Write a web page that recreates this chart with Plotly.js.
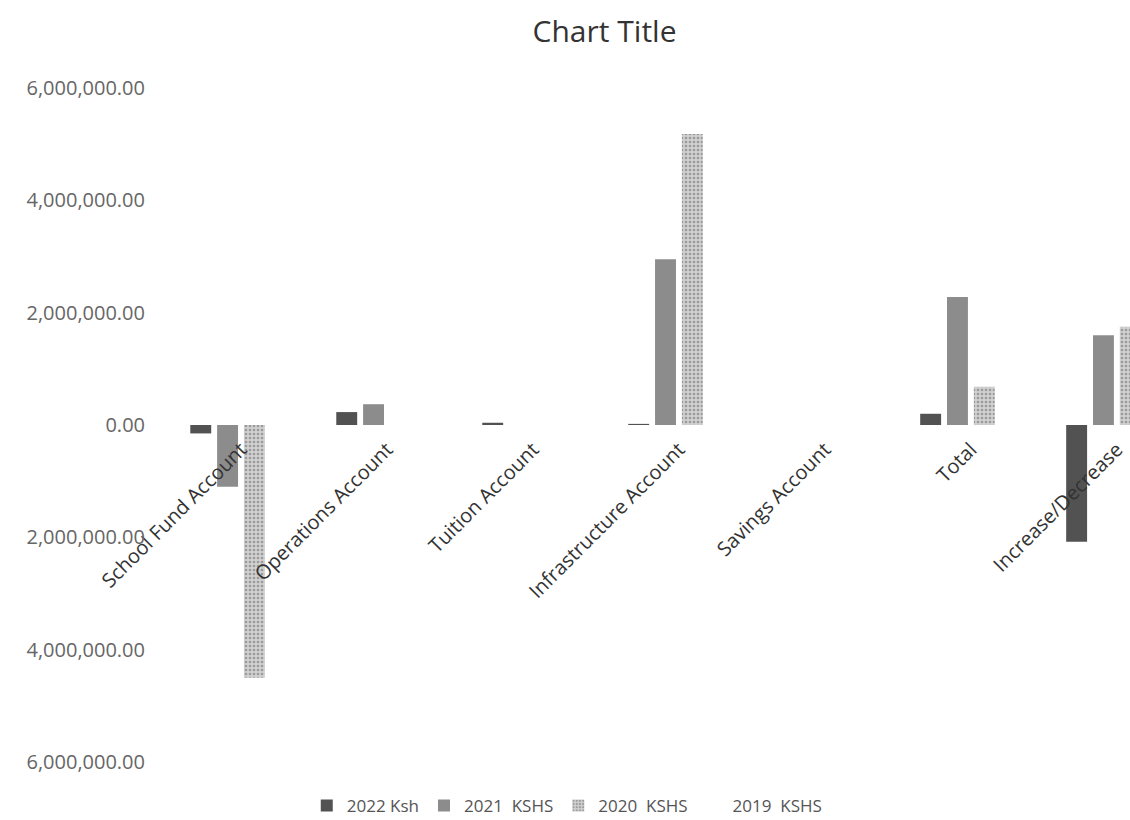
<!DOCTYPE html>
<html>
<head>
<meta charset="utf-8">
<script src="https://cdn.plot.ly/plotly-3.0.1.min.js"></script>
<style>html,body{margin:0;padding:0;background:#fff;}#chart{width:1130px;height:820px;}</style>
</head>
<body>
<div id="chart"></div>
<script>
const categories = ["School Fund Account", "Operations Account", "Tuition Account", "Infrastructure Account", "Savings Account", "Total", "Increase/Decrease"];
const seriesNames = ["2022 Ksh", "2021\u00a0 KSHS", "2020\u00a0 KSHS", "2019\u00a0 KSHS"];
const v2022 = [-150000, 230000, 40000, 20000, 0, 200000, -2080000];
const v2021 = [-1100000, 370000, 0, 2950000, 0, 2280000, 1600000];
const v2020 = [-4500000, 0, 0, 5180000, 0, 680000, 1750000];
const v2019 = [0, 0, 0, 0, 0, 0, 0];
const yTickVals = [-6000000, -4000000, -2000000, 0, 2000000, 4000000, 6000000];
const yTickText = ["6,000,000.00", "4,000,000.00", "2,000,000.00", "0.00", "2,000,000.00", "4,000,000.00", "6,000,000.00"];

const colors = ["#525252", "#8c8c8c", "#c4c4c4", "#ffffff"];
const allValues = [v2022, v2021, v2020, v2019];

const traces = allValues.map((vals, i) => ({
  type: "bar",
  name: seriesNames[i],
  x: categories,
  y: vals,
  marker: i === 2
    ? {color: colors[i], pattern: {shape: ".", fgcolor: "#9a9a9a", bgcolor: "#d0d0d0", size: 4, solidity: 0.35}}
    : {color: colors[i], line: {width: 0}},
  hoverinfo: "x+y+name"
}));

const layout = {
  width: 1130,
  height: 820,
  paper_bgcolor: "#ffffff",
  plot_bgcolor: "#ffffff",
  margin: {l: 168, r: 0, t: 88, b: 58},
  font: {family: "Open Sans, sans-serif", color: "#555"},
  title: {
    text: "Chart Title",
    font: {family: "Open Sans, sans-serif", size: 30, color: "#333"},
    xref: "container", x: 0.535, xanchor: "center",
    yref: "container", y: 0.961, yanchor: "middle"
  },
  barmode: "group",
  bargap: 0.265,
  bargroupgap: 0.22,
  xaxis: {
    type: "category",
    range: [-0.5, 6.09],
    anchor: "free",
    position: 0.5,
    showline: false,
    showgrid: false,
    zeroline: false,
    ticks: "",
    tickangle: -45,
    ticklabelstandoff: 8,
    tickfont: {family: "Open Sans, sans-serif", size: 20, color: "#333"}
  },
  yaxis: {
    range: [-6000000, 6000000],
    tickvals: yTickVals,
    ticktext: yTickText,
    showline: false,
    showgrid: false,
    zeroline: false,
    ticks: "",
    ticklabelstandoff: 22,
    tickfont: {family: "Open Sans, sans-serif", size: 20, color: "#666"}
  },
  showlegend: true,
  legend: {
    orientation: "h",
    xref: "container", x: 0.502, xanchor: "center",
    yref: "container", y: 0.017, yanchor: "middle",
    font: {family: "Open Sans, sans-serif", size: 17, color: "#555"},
    itemwidth: 30,
    traceorder: "normal"
  }
};

Plotly.newPlot("chart", traces, layout, {displayModeBar: false, staticPlot: true});
</script>
</body>
</html>
